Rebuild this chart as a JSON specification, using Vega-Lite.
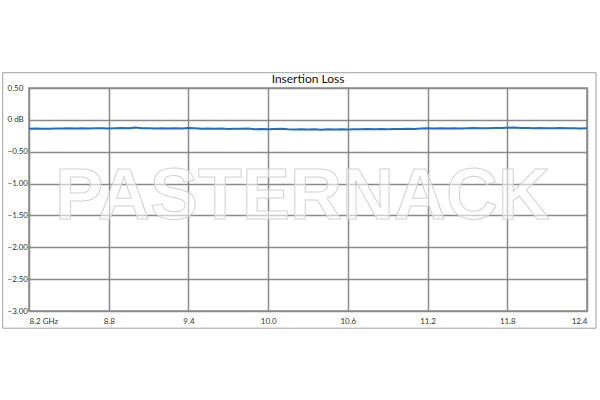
{
  "$schema": "https://vega.github.io/schema/vega-lite/v6.json",
  "width": 558,
  "height": 223,
  "autosize": {"type": "none"},
  "padding": {"left": 29, "top": 88, "right": 13, "bottom": 89},
  "background": "white",
  "title": {"text": "Insertion Loss", "font": "Lato", "fontSize": 12, "fontWeight": "normal", "color": "#111", "anchor": "middle", "frame": "group", "offset": -14},
  "config": {
    "view": {"stroke": "#8a8a8a", "strokeWidth": 1.5},
    "axis": {"labelFont": "Lato", "labelFontSize": 8, "labelColor": "#333", "gridColor": "#8a8a8a", "gridWidth": 1.5, "gridOpacity": 1, "domain": false, "ticks": false, "title": null, "labelOverlap": false, "labelBound": false}
  },
  "datasets": {
    "loss": [
      {"f": 8.20, "db": -0.140}, {"f": 8.25, "db": -0.135}, {"f": 8.30, "db": -0.140}, {"f": 8.35, "db": -0.138},
      {"f": 8.40, "db": -0.135}, {"f": 8.45, "db": -0.137}, {"f": 8.50, "db": -0.133}, {"f": 8.55, "db": -0.136},
      {"f": 8.60, "db": -0.132}, {"f": 8.65, "db": -0.135}, {"f": 8.70, "db": -0.133}, {"f": 8.75, "db": -0.130},
      {"f": 8.80, "db": -0.134}, {"f": 8.85, "db": -0.131}, {"f": 8.90, "db": -0.128}, {"f": 8.95, "db": -0.132},
      {"f": 9.00, "db": -0.122}, {"f": 9.05, "db": -0.133}, {"f": 9.10, "db": -0.131}, {"f": 9.15, "db": -0.134},
      {"f": 9.20, "db": -0.132}, {"f": 9.25, "db": -0.135}, {"f": 9.30, "db": -0.130}, {"f": 9.35, "db": -0.136},
      {"f": 9.40, "db": -0.128}, {"f": 9.45, "db": -0.131}, {"f": 9.50, "db": -0.138}, {"f": 9.55, "db": -0.134},
      {"f": 9.60, "db": -0.140}, {"f": 9.65, "db": -0.136}, {"f": 9.70, "db": -0.142}, {"f": 9.75, "db": -0.139},
      {"f": 9.80, "db": -0.141}, {"f": 9.85, "db": -0.137}, {"f": 9.90, "db": -0.146}, {"f": 9.95, "db": -0.143},
      {"f": 10.00, "db": -0.148}, {"f": 10.05, "db": -0.145}, {"f": 10.10, "db": -0.141}, {"f": 10.15, "db": -0.147},
      {"f": 10.20, "db": -0.150}, {"f": 10.25, "db": -0.146}, {"f": 10.30, "db": -0.152}, {"f": 10.35, "db": -0.148},
      {"f": 10.40, "db": -0.155}, {"f": 10.45, "db": -0.149}, {"f": 10.50, "db": -0.153}, {"f": 10.55, "db": -0.147},
      {"f": 10.60, "db": -0.151}, {"f": 10.65, "db": -0.146}, {"f": 10.70, "db": -0.149}, {"f": 10.75, "db": -0.144},
      {"f": 10.80, "db": -0.148}, {"f": 10.85, "db": -0.143}, {"f": 10.90, "db": -0.146}, {"f": 10.95, "db": -0.142},
      {"f": 11.00, "db": -0.145}, {"f": 11.05, "db": -0.141}, {"f": 11.10, "db": -0.143}, {"f": 11.15, "db": -0.136},
      {"f": 11.20, "db": -0.133}, {"f": 11.25, "db": -0.136}, {"f": 11.30, "db": -0.132}, {"f": 11.35, "db": -0.135},
      {"f": 11.40, "db": -0.130}, {"f": 11.45, "db": -0.134}, {"f": 11.50, "db": -0.131}, {"f": 11.55, "db": -0.128},
      {"f": 11.60, "db": -0.133}, {"f": 11.65, "db": -0.130}, {"f": 11.70, "db": -0.126}, {"f": 11.75, "db": -0.129},
      {"f": 11.80, "db": -0.124}, {"f": 11.85, "db": -0.120}, {"f": 11.90, "db": -0.126}, {"f": 11.95, "db": -0.128},
      {"f": 12.00, "db": -0.131}, {"f": 12.05, "db": -0.127}, {"f": 12.10, "db": -0.130}, {"f": 12.15, "db": -0.133},
      {"f": 12.20, "db": -0.129}, {"f": 12.25, "db": -0.132}, {"f": 12.30, "db": -0.130}, {"f": 12.35, "db": -0.134},
      {"f": 12.40, "db": -0.131}
    ],
    "frame": [{"f1": 8.002, "f2": 12.468, "d1": 0.74, "d2": -3.27}],
    "mark": [{"f": 10.26, "db": -1.21, "label": "PASTERNACK"}]
  },
  "layer": [
    {
      "data": {"name": "frame"},
      "mark": {"type": "rect", "filled": false, "stroke": "#a0a0a0", "strokeWidth": 1, "clip": false},
      "encoding": {
        "x": {"field": "f1", "type": "quantitative", "scale": {"domain": [8.2, 12.4], "nice": false, "zero": false},
          "axis": {"values": [8.2, 8.8, 9.4, 10.0, 10.6, 11.2, 11.8, 12.4], "tickCount": 20, "labelFlush": true, "labelPadding": 6,
            "labelExpr": "datum.value == 8.2 ? '8.2  GHz' : format(datum.value, '.1f')"}},
        "x2": {"field": "f2"},
        "y": {"field": "d1", "type": "quantitative", "scale": {"domain": [-3, 0.5], "nice": false, "zero": false},
          "axis": {"values": [0.5, 0, -0.5, -1, -1.5, -2, -2.5, -3], "tickCount": 20, "labelAlign": "left", "labelPadding": 22,
            "labelExpr": "datum.value == 0 ? '0 dB' : format(datum.value, '.2f')"}},
        "y2": {"field": "d2"}
      }
    },
    {
      "data": {"name": "mark"},
      "mark": {"type": "text", "font": "Liberation Sans", "fontWeight": "bold", "fontSize": 72, "baseline": "middle", "align": "center",
        "fill": "white", "fillOpacity": 0.55, "stroke": "#d2d2d2", "strokeWidth": 1},
      "encoding": {
        "x": {"field": "f", "type": "quantitative"},
        "y": {"field": "db", "type": "quantitative"},
        "text": {"field": "label"}
      }
    },
    {
      "data": {"name": "loss"},
      "mark": {"type": "line", "color": "#1f6fc4", "strokeWidth": 2},
      "encoding": {
        "x": {"field": "f", "type": "quantitative"},
        "y": {"field": "db", "type": "quantitative"}
      }
    }
  ]
}
